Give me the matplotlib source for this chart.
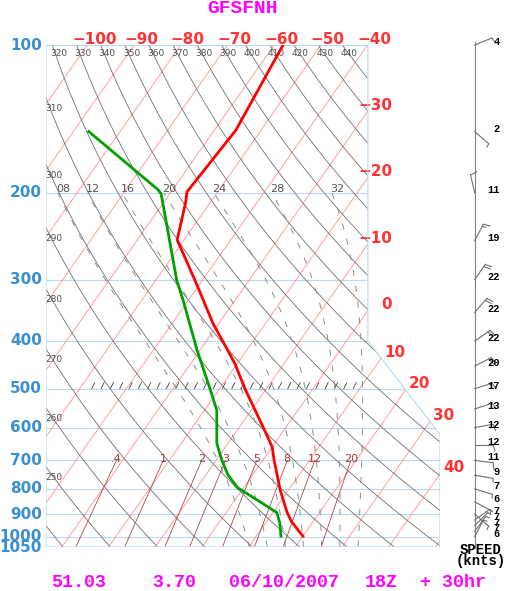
"""Skew-T log-P sounding, GFS forecast.
"""
import numpy as np
import matplotlib
matplotlib.use("Agg")
import matplotlib.pyplot as plt
from matplotlib.patches import Polygon
from matplotlib.transforms import offset_copy

plt.rcParams['lines.scale_dashes'] = False

# sounding (hPa, degC)
t_pres = [998, 934, 894, 804, 699, 657, 599, 501, 444, 368, 301, 249, 209, 199, 149, 100]
t_vals = [20.0, 15.5, 13.1, 8.2, 2.4, 0.0, -4.9, -14.5, -20.6, -31.3, -41.6, -51.5, -55.3, -56.6, -55.4, -58.1]
td_pres = [998, 939, 894, 850, 796, 750, 699, 646, 553, 501, 417, 330, 301, 201, 197, 150]
td_vals = [15.3, 13.1, 10.9, 5.7, -1.2, -5.2, -8.8, -12.4, -17.4, -22.0, -30.7, -41.2, -45.5, -61.8, -63.1, -86.7]

# winds (hPa, knots, degrees)
wind_pres = [100, 150, 200, 250, 300, 350, 400, 450, 500, 550, 600, 650, 700,
             750, 800, 850, 900, 925, 950, 975, 1000]
wind_speed = [4, 2, 11, 19, 22, 22, 22, 20, 17, 13, 12, 12, 11, 9, 7, 6, 7, 7, 7, 7, 6]
wind_dir = [68, 131, 347, 28, 35, 41, 56, 63, 73, 72, 80, 90, 97, 100, 107, 118, 131,
            55, 45, 37, 28]

# background lines
isobars = [100, 200, 300, 400, 500, 600, 700, 800, 900, 1000, 1050]
isotherms = list(range(-110, 60, 10))
top_t_labels = [-100, -90, -80, -70, -60, -50, -40]
side_t_labels = [-30, -20, -10, 0, 10, 20, 30, 40]
thetas = list(range(240, 450, 10))
theta_top_labels = list(range(320, 450, 10))
theta_side_labels = list(range(250, 320, 10))
theta_w = [8, 12, 16, 20, 24, 28, 32]
theta_w_labels = ['08', '12', '16', '20', '24', '28', '32']
mix_ratios = [0.4, 1, 2, 3, 5, 8, 12, 20]
mix_labels = ['.4', '1', '2', '3', '5', '8', '12', '20']

title = 'GFSFNH'
footer = ['51.03', '3.70', '06/10/2007', '18Z', '+ 30hr']
footer_x = [51, 152, 229, 365, 420]

# diagram geometry
P_BOT, P_TOP = 1050.0, 100.0
SKEW = 32.1
X_LEFT, X_RIGHT, X_EDGE = -33.4, 51.0, 35.55
P_NOTCH_TOP, P_NOTCH_BOT = 400.0, 620.0
W, H = 506, 591
AX_L, AX_T, AX_W, AX_H = 46, 45, 394, 502
PX_PER_C = AX_W / (X_RIGHT - X_LEFT)
PX_PER_LN = AX_H / np.log(P_BOT / P_TOP)

RED_LBL = '#ff3333'
BLUE_LBL = '#3a8fd0'
BLUE_LINE = '#b5daf2'
MAGENTA = '#ff00ff'
MONO = 'Liberation Mono'


def skew(t, p):
    return np.asarray(t) + SKEW * np.log(P_BOT / np.asarray(p))


def theta_temp(theta, p):
    return theta * (np.asarray(p) / 1000.0) ** 0.286 - 273.15


def mix_temp(w, p):
    e = w * np.asarray(p) / (622.0 + w)
    a = np.log(e / 6.112)
    return 243.5 * a / (17.67 - a)


def dtdp(tk, p):
    tc = tk - 273.15
    es = 6.112 * np.exp(17.67 * tc / (tc + 243.5))
    rs = 0.622 * es / (p - es)
    return (287.04 * tk + 2.501e6 * rs) / (p * (1005.7 + 2.501e6 ** 2 * rs * 0.622 / (287.04 * tk ** 2)))


def moist_adiabat(tw):
    def run(ps):
        t = [tw + 273.15]
        for p0, p1 in zip(ps[:-1], ps[1:]):
            dp = p1 - p0
            k1 = dtdp(t[-1], p0)
            k2 = dtdp(t[-1] + 0.5 * dp * k1, p0 + 0.5 * dp)
            t.append(t[-1] + dp * k2)
        return np.array(t) - 273.15
    up = np.linspace(1000, 200, 801)
    down = np.linspace(1000, P_BOT, 51)
    ps = np.concatenate([down[::-1], up[1:]])
    ts = np.concatenate([run(down)[::-1], run(up)[1:]])
    return ps, ts


def edge_cross(t):
    """Pressure where an isotherm leaves the right edge of the diagram."""
    p = P_BOT * np.exp(-(X_EDGE - t) / SKEW)
    if p <= P_NOTCH_TOP:
        return p
    a = (X_RIGHT - X_EDGE) / np.log(P_NOTCH_BOT / P_NOTCH_TOP)
    u = (t + SKEW * np.log(P_BOT) - X_EDGE + a * np.log(P_NOTCH_TOP)) / (SKEW + a)
    p = np.exp(u)
    if p <= P_NOTCH_BOT:
        return p
    return P_BOT * np.exp(-(X_RIGHT - t) / SKEW)


fig = plt.figure(figsize=(W / 100, H / 100), dpi=100)
ax = fig.add_axes([AX_L / W, 1 - (AX_T + AX_H) / H, AX_W / W, AX_H / H])
ax.set_yscale('log')
ax.set_xlim(X_LEFT, X_RIGHT)
ax.set_ylim(P_BOT, P_TOP)
ax.autoscale(False)
ax.axis('off')


def off(dx, dy):
    return offset_copy(ax.transData, fig=fig, x=dx, y=dy, units='dots')


def shift(x, p, dx, dy):
    return x + dx / PX_PER_C, p * np.exp(-dy / PX_PER_LN)


border = Polygon([(X_LEFT, P_BOT), (X_LEFT, P_TOP), (X_EDGE, P_TOP), (X_EDGE, P_NOTCH_TOP),
                  (X_RIGHT, P_NOTCH_BOT), (X_RIGHT, P_BOT)], closed=True,
                 facecolor='none', edgecolor=BLUE_LINE, lw=0.8, zorder=5)
ax.add_patch(border)

lines = []
prof = np.geomspace(P_BOT, P_TOP, 200)

# isobars
for p in isobars:
    lines += ax.plot([X_LEFT, X_RIGHT], [p, p], color=BLUE_LINE, lw=0.8, zorder=1)
# isotherms
for t in isotherms:
    lines += ax.plot(skew([t, t], [P_BOT, P_TOP]), [P_BOT, P_TOP], color='#ff8f8f', lw=0.6, zorder=2)
# dry adiabats
for th in thetas:
    lines += ax.plot(skew(theta_temp(th, prof), prof), prof, color='#707070', lw=0.6, zorder=2)
# moist adiabats
for tw in theta_w:
    ps, ts = moist_adiabat(tw)
    lines += ax.plot(skew(ts, ps), ps, color='#8c8c8c', lw=0.7, ls=(0, (4.5, 7)), zorder=2)
# mixing ratio lines
pm = np.geomspace(P_BOT, 700, 50)
for w in mix_ratios:
    lines += ax.plot(skew(mix_temp(w, pm), pm), pm, color='#b04848', lw=0.6, zorder=2)

for ln in lines:
    ln.set_clip_path(border)

# hatch marks along 500 hPa
for x in np.arange(-23.6, 32.5, 2.0):
    x2, p2 = shift(x, 500, 3, 6)
    ax.plot([x, x2], [500, p2], color='#404040', lw=0.6, zorder=3)

# sounding curves
ax.plot(skew(t_vals, t_pres), t_pres, color='#ff0000', lw=2.0, zorder=6,
        solid_joinstyle='round')
ax.plot(skew(td_vals, td_pres), td_pres, color='#00a000', lw=2.0, zorder=6,
        solid_joinstyle='round')

# labels
for p in isobars:
    ax.text(X_LEFT, p, str(p), transform=off(-4, 0), ha='right', va='center',
            fontsize=11, fontweight='bold', color=BLUE_LBL)
for t in top_t_labels:
    ax.text(skew(t, P_TOP), P_TOP, f'{t}'.replace('-', '\u2212'), transform=off(7, 1),
            ha='center', va='baseline', fontsize=11, fontweight='bold', color=RED_LBL)
for t in side_t_labels:
    pl = edge_cross(t) * np.exp(-6 / PX_PER_LN)
    ax.text(skew(t, pl), pl, f'{t}'.replace('-', '\u2212'), transform=off(20, 0),
            ha='right', va='center', fontsize=11, fontweight='bold', color=RED_LBL)
for th in theta_top_labels:
    ax.text(skew(theta_temp(th, P_TOP), P_TOP), P_TOP, str(th), transform=off(-2, -10.5),
            ha='left', va='baseline', fontsize=6.5, color='#505050')
for th in theta_side_labels:
    xs = skew(theta_temp(th, prof), prof)
    pc = np.interp(X_LEFT, xs[::-1], prof[::-1])
    ax.text(X_LEFT, pc, str(th), transform=off(-1, -13.5), ha='left', va='baseline',
            fontsize=6.5, color='#505050')
for tw, lab in zip(theta_w, theta_w_labels):
    ps, ts = moist_adiabat(tw)
    ax.text(skew(ts[-1], 200), 200, lab, transform=off(-2, 0.5), ha='left', va='baseline',
            fontsize=8, color='#555555')
for w, lab in zip(mix_ratios, mix_labels):
    ax.text(skew(mix_temp(w, 700), 700), 700, lab, transform=off(0, -1.5), ha='center',
            va='baseline', fontsize=8, color='#a83838')

# wind column
staff_x = X_LEFT + (474.7 - AX_L) / PX_PER_C
ax.plot([staff_x, staff_x], [P_TOP * np.exp(-3 / PX_PER_LN), P_BOT * np.exp(1 / PX_PER_LN)],
        color='#808080', lw=0.8, clip_on=False)
for p, spd, d in zip(wind_pres, wind_speed, wind_dir):
    r = np.radians(d)
    vx, vy = np.sin(r), np.cos(r)       # toward where the wind comes from (px, up)
    px, py = vy, -vx                    # clockwise side
    L = 18.5
    tip = (L * vx, L * vy)
    x1, p1 = shift(staff_x, p, *tip)
    ax.plot([staff_x, x1], [p, p1], color='#707070', lw=0.8, clip_on=False)
    full = spd // 10
    half = 1 if (spd % 10 >= 5 or full == 0) else 0
    ticks = [6.5] * full + [3.5] * half
    for i, tl in enumerate(ticks):
        bx, by = tip[0] - i * 2.5 * vx, tip[1] - i * 2.5 * vy
        ex, ey = bx + tl * (px + 0.25 * vx), by + tl * (py + 0.25 * vy)
        xa, pa = shift(staff_x, p, bx, by)
        xb, pb = shift(staff_x, p, ex, ey)
        ax.plot([xa, xb], [pa, pb], color='#707070', lw=0.8, clip_on=False)
    xl = X_LEFT + (500 - AX_L) / PX_PER_C
    ax.text(xl, p, str(spd), transform=off(0, 3), ha='right', va='center',
            fontsize=7.5, fontweight='bold', family=MONO, color='black')

fig.text(481 / W, 1 - 550 / H, 'SPEED', ha='center', va='center', fontsize=10,
         fontweight='bold', family=MONO)
fig.text(481 / W, 1 - 561 / H, '(knts)', ha='center', va='center', fontsize=10,
         fontweight='bold', family=MONO)

fig.text(243 / W, 1 - 13 / H, title, ha='center', va='baseline', fontsize=14,
         fontweight='bold', family=MONO, color=MAGENTA)
for s, x in zip(footer, footer_x):
    fig.text(x / W, 1 - 587 / H, s, ha='left', va='baseline', fontsize=13.2,
             fontweight='bold', family=MONO, color=MAGENTA)

fig.savefig('out.png', dpi=100)
